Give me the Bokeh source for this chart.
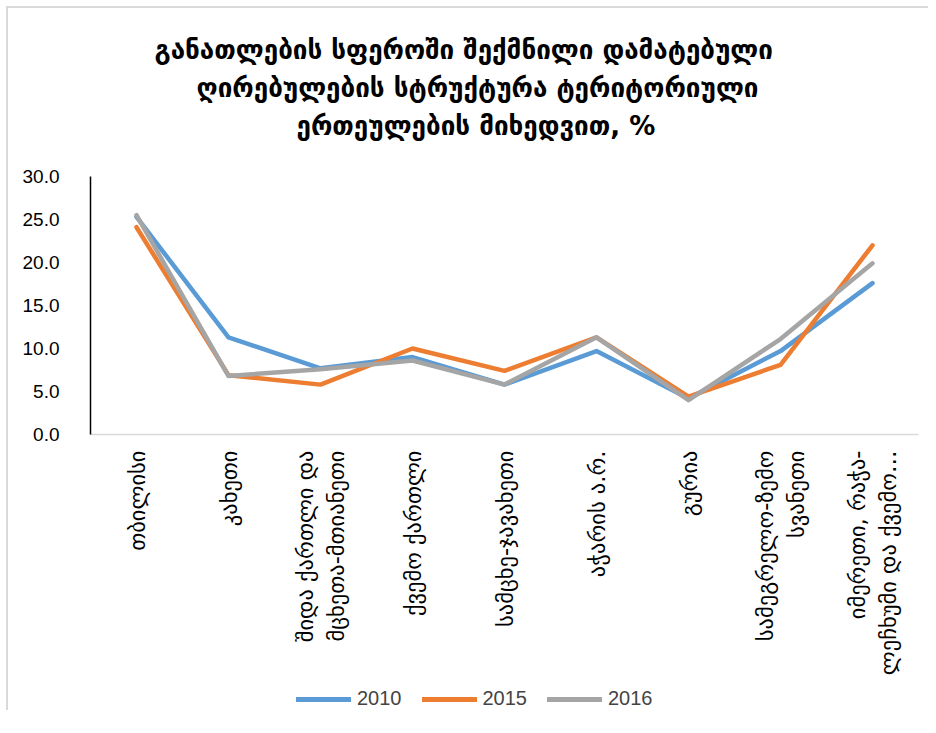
from bokeh.plotting import figure
from bokeh.layouts import column
from bokeh.models import (FactorRange, Range1d, Legend, LegendItem, SingleIntervalTicker,
                          NumeralTickFormatter, Title)
from bokeh.embed import file_html
from bokeh.resources import INLINE
import math

title_lines = [
    "განათლების სფეროში შექმნილი დამატებული",
    "ღირებულების სტრუქტურა ტერიტორიული",
    "ერთეულების მიხედვით, %",
]
categories = [
    "თბილისი",
    "კახეთი",
    "შიდა ქართლი და\nმცხეთა-მთიანეთი",
    "ქვემო ქართლი",
    "სამცხე-ჯავახეთი",
    "აჭარის ა.რ.",
    "გურია",
    "სამეგრელო-ზემო\nსვანეთი",
    "იმერეთი, რაჭა-\nლეჩხუმი და ქვემო…",
]
series_names = ["2010", "2015", "2016"]
v2010 = [25.3, 11.3, 7.7, 9.0, 5.8, 9.7, 4.2, 9.7, 17.6]
v2015 = [24.1, 6.9, 5.8, 10.0, 7.4, 11.3, 4.4, 8.1, 22.0]
v2016 = [25.5, 6.8, 7.6, 8.6, 5.8, 11.3, 4.0, 11.1, 19.9]
colors = ["#5B9BD5", "#ED7D31", "#A5A5A5"]
all_series = [v2010, v2015, v2016]

p = figure(width=920, height=676, output_backend="svg", toolbar_location=None,
           x_range=FactorRange(*categories, range_padding=0), y_range=Range1d(0, 30),
           min_border_left=82, min_border_right=10, min_border_bottom=250, min_border_top=168)

p.outline_line_color = None
p.xgrid.grid_line_color = None
p.ygrid.grid_line_color = None

# spacer between the title block and the plot frame (nearest the frame)
p.add_layout(Title(text=" ", text_font_size="17px", standoff=12), "above")
# title lines: added from the bottom line upward
title_offsets = [64, 106, 206]
for i in reversed(range(len(title_lines))):
    p.add_layout(Title(text=title_lines[i], align="left", offset=title_offsets[i],
                       text_font="DejaVu Sans", text_font_style="bold",
                       text_font_size="26px", text_color="#000000",
                       standoff=6), "above")

for vals, c in zip(all_series, colors):
    p.line(categories, vals, line_color=c, line_width=4.5, line_cap="round", line_join="round")

p.yaxis.ticker = SingleIntervalTicker(interval=5)
p.yaxis.formatter = NumeralTickFormatter(format="0.0")
p.yaxis.axis_line_color = "#000000"
p.yaxis.axis_line_width = 1.5
p.yaxis.major_tick_line_color = None
p.yaxis.minor_tick_line_color = None
p.yaxis.major_label_text_font = "Liberation Sans"
p.yaxis.major_label_text_font_size = "19px"
p.yaxis.major_label_text_color = "#000000"
p.yaxis.major_label_standoff = 25

p.xaxis.axis_line_color = "#D9D9D9"
p.xaxis.axis_line_width = 1.5
p.xaxis.major_tick_line_color = None
p.xaxis.minor_tick_line_color = None
p.xaxis.major_label_orientation = math.pi / 2
p.xaxis.major_label_text_font = "DejaVu Sans"
p.xaxis.major_label_text_font_size = "22.5px"
p.xaxis.major_label_text_color = "#000000"
p.xaxis.major_label_standoff = 10

# legend strip below the chart; the series are drawn here outside the visible range
lg = figure(width=920, height=26, output_backend="svg", toolbar_location=None,
            x_range=FactorRange(*categories), y_range=Range1d(100, 101),
            x_axis_type=None, y_axis_type=None,
            min_border_left=0, min_border_right=0, min_border_top=0, min_border_bottom=0)
lg.outline_line_color = None
lg.xgrid.grid_line_color = None
lg.ygrid.grid_line_color = None
items = []
for name, vals, c in zip(series_names, all_series, colors):
    r = lg.line(categories, vals, line_color=c, line_width=5, line_cap="round")
    items.append(LegendItem(label=name, renderers=[r]))
legend = Legend(items=items, orientation="horizontal", location=(206, 0),
                border_line_color=None, background_fill_alpha=0,
                label_text_font="Liberation Sans", label_text_font_size="20px",
                glyph_width=55, glyph_height=20, label_standoff=6, spacing=20,
                margin=0, padding=1)
lg.add_layout(legend, "center")

layout = column(p, lg, spacing=0)
layout.styles = {"margin-top": "6px", "margin-left": "6px",
                 "border-top": "2px solid #D9D9D9", "border-left": "2px solid #D9D9D9"}
open("out.html", "w").write(file_html(layout, INLINE))
